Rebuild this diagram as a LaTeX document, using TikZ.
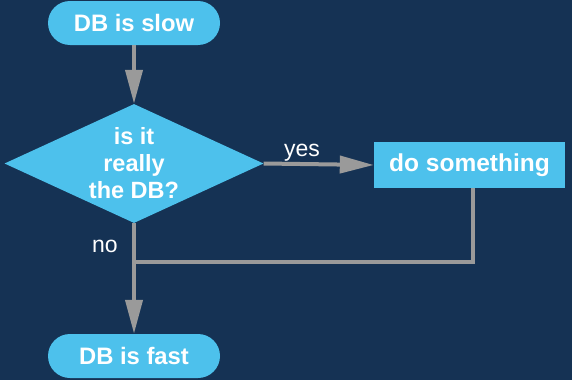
\documentclass[tikz,border=0pt]{standalone}
\usepackage{fontspec}
\setmainfont{Liberation Sans}
\usetikzlibrary{arrows.meta,shapes.geometric}
\definecolor{bg}{HTML}{153254}
\definecolor{nodefill}{HTML}{4DC1EC}
\definecolor{connc}{HTML}{9A9A9A}
\begin{document}
\begin{tikzpicture}[x=1pt,y=-1pt,
  term/.style={rectangle, rounded corners=22pt, fill=nodefill, minimum width=172pt, minimum height=44pt, inner sep=0pt, text=white, font=\fontsize{23.8}{27}\selectfont\bfseries},
  proc/.style={rectangle, fill=nodefill, minimum width=191pt, minimum height=46pt, inner sep=0pt, text=white, font=\fontsize{24.5}{28}\selectfont\bfseries},
  decision/.style={diamond, fill=nodefill, minimum width=259pt, minimum height=119pt, inner sep=0pt},
  dtext/.style={text=white, align=center, font=\fontsize{23.5}{27}\selectfont\bfseries, inner sep=0pt},
  conn/.style={draw=connc, line width=4pt},
  arr/.style={conn, -{Triangle[length=34pt,width=17pt]}},
  lbl/.style={text=white, font=\fontsize{23}{27}\selectfont, inner sep=0pt}]
\fill[bg] (0,0) rectangle (572,380);
\useasboundingbox (0,0) rectangle (572,380);
\node[term] (slow) at (134,23) {DB is slow};
\node[decision] (q) at (134,163.5) {};
\node[dtext] (qt) at (q.center) {is it\\really\\the DB?};
\node[proc] (do) at (469.5,165) {do something};
\node[term] (fast) at (134,356) {DB is fast};
\coordinate (j) at (134,262);
\draw[arr] (slow) -- (q.north);
\draw[arr] (q.east) -- (do.west);
\draw[arr] (q.south) -- (fast.north);
\draw[conn] ([xshift=3.5pt]do.south) |- (j);
\node[lbl, anchor=base] (yes) at (302,156) {yes};
\node[lbl, anchor=base] (no) at (105,252) {no};
\end{tikzpicture}
\end{document}
